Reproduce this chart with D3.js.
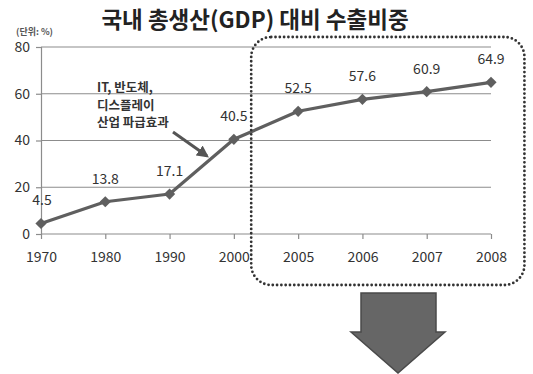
<!DOCTYPE html>
<html>
<head>
<meta charset="utf-8">
<script src="https://cdn.jsdelivr.net/npm/d3@7"></script>
<style>
  body { margin: 0; background: #fff; }
  svg { display: block; font-family: "Noto Sans CJK KR", "Noto Sans", sans-serif; }
</style>
</head>
<body>
<svg id="chart" width="533" height="374"></svg>
<script>
var years = ["1970", "1980", "1990", "2000", "2005", "2006", "2007", "2008"];
var shares = [4.5, 13.8, 17.1, 40.5, 52.5, 57.6, 60.9, 64.9];
var yTicks = [0, 20, 40, 60, 80];
var noteLines = ["IT, 반도체,", "디스플레이", "산업 파급효과"];

var svg = d3.select("#chart");

var x = d3.scalePoint().domain(years).range([41, 491]);
var y = d3.scaleLinear().domain([0, 80]).range([234, 47]);

// title + unit
svg.append("text")
  .attr("x", 255).attr("y", 28)
  .attr("text-anchor", "middle")
  .style("font-size", "22.5px").style("font-weight", "bold").style("fill", "#222")
  .text("국내 총생산(GDP) 대비 수출비중");

svg.append("text")
  .attr("x", 16).attr("y", 35)
  .style("font-size", "9px").style("font-weight", "bold").style("fill", "#555")
  .text("(단위: %)");

// gridlines
svg.append("g").selectAll("line")
  .data(yTicks.filter(function (d) { return d > 0 }))
  .enter().append("line")
  .attr("x1", x.range()[0]).attr("x2", x.range()[1])
  .attr("y1", function (d) { return y(d) }).attr("y2", function (d) { return y(d) })
  .style("stroke", "#8c8c8c").style("stroke-width", 1.2);

// y axis
var yAxis = svg.append("g")
  .attr("transform", "translate(" + x.range()[0] + ",0)")
  .call(d3.axisLeft(y).tickValues(yTicks).tickSize(5).tickPadding(6));

// x axis
var xAxis = svg.append("g")
  .attr("transform", "translate(0," + y(0) + ")")
  .call(d3.axisBottom(x).tickSize(5).tickPadding(13));

[yAxis, xAxis].forEach(function (g) {
  g.select(".domain").style("stroke", "#8c8c8c").style("stroke-width", 1.2);
  g.selectAll(".tick line").style("stroke", "#8c8c8c").style("stroke-width", 1.2);
  g.selectAll("text").style("font-size", "14px").style("fill", "#333")
    .style("font-family", "\"Noto Sans CJK KR\", sans-serif");
});
xAxis.selectAll(".domain").attr("d", "M" + x.range()[0] + ",0H" + x.range()[1]);

// series line
var line = d3.line()
  .x(function (d, i) { return x(years[i]) })
  .y(function (d) { return y(d) });

svg.append("path")
  .datum(shares)
  .attr("d", line)
  .style("fill", "none").style("stroke", "#5f5f5f").style("stroke-width", 3.2)
  .style("stroke-linejoin", "round");

svg.append("g").selectAll("path")
  .data(shares)
  .enter().append("path")
  .attr("transform", function (d, i) { return "translate(" + x(years[i]) + "," + y(d) + ")" })
  .attr("d", d3.symbol().type(d3.symbolDiamond2).size(80))
  .style("fill", "#5f5f5f");

// value labels
svg.append("g").selectAll("text")
  .data(shares)
  .enter().append("text")
  .attr("x", function (d, i) { return x(years[i]) + (i === 0 ? 1 : 0) })
  .attr("y", function (d) { return y(d) - 18 })
  .attr("text-anchor", "middle")
  .style("font-size", "14px").style("fill", "#333")
  .text(function (d) { return d.toFixed(1) });

// note with arrow pointing at the 1990-2000 run-up
svg.append("g").selectAll("text")
  .data(noteLines)
  .enter().append("text")
  .attr("x", 97).attr("y", function (d, i) { return 92 + i * 17.5 })
  .style("font-size", "12.5px").style("font-weight", "bold").style("fill", "#333")
  .text(function (d) { return d });

svg.append("defs").append("marker")
  .attr("id", "head").attr("viewBox", "0 0 10 10")
  .attr("refX", 8).attr("refY", 5)
  .attr("markerWidth", 4).attr("markerHeight", 4)
  .attr("orient", "auto")
  .append("path").attr("d", "M0,0L10,5L0,10Z").style("fill", "#555");

svg.append("line")
  .attr("x1", 173).attr("y1", 132).attr("x2", 207).attr("y2", 156)
  .attr("marker-end", "url(#head)")
  .style("stroke", "#555").style("stroke-width", 3);

// dotted frame around 2005-2008
var step = x.step();
var bx0 = x("2000") + step * 0.27, bx1 = x("2008") + step * 0.52;
svg.append("rect")
  .attr("x", bx0).attr("y", 37)
  .attr("width", bx1 - bx0).attr("height", 248)
  .attr("rx", 20).attr("ry", 20)
  .style("fill", "none").style("stroke", "#333").style("stroke-width", 2.8)
  .style("stroke-linecap", "round").style("stroke-dasharray", "0 4.3");

// big down arrow below the frame
svg.append("path")
  .attr("d", "M361,293H436V332H445L398,373L351,332H361Z")
  .style("fill", "#666").style("stroke", "#4a4a4a").style("stroke-width", 1.5);
</script>
</body>
</html>
